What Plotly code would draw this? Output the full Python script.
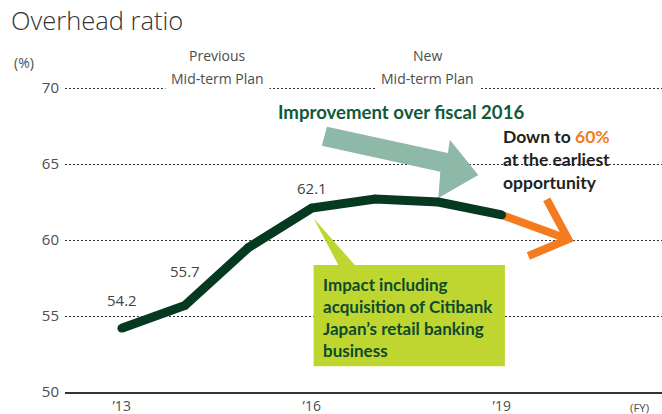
import plotly.graph_objects as go

# ---- data ----
years = [2013, 2014, 2015, 2016, 2017, 2018, 2019]
ratio = [54.2, 55.7, 59.5, 62.1, 62.7, 62.5, 61.65]
label_idx = [0, 1, 3]
label_shift = [28, 34, 20]
target_year = 2020.05
target_ratio = 60.05
tick_years = [2013, 2016, 2019]
tick_text = ["’13", "’16", "’19"]
y_ticks = [50, 55, 60, 65, 70]

# decorative annotation shapes (data coords)
teal_arrow = [(2016.24, 67.45), (2018.15, 65.73), (2018.18, 66.59), (2018.63, 64.28),
              (2018.0, 62.77), (2018.03, 64.5), (2016.16, 66.2)]
lime_callout = [(2016.03, 61.43), (2016.68, 58.35), (2019.05, 58.35), (2019.05, 51.69),
                (2016.03, 51.69), (2016.03, 58.35), (2016.42, 58.35)]
chevron_x = [2019.71, target_year, 2019.42]
chevron_y = [62.68, target_ratio, 58.95]

GREEN = "#063a20"
TEAL = "#8eb8a8"
LIME = "#bfd630"
ORANGE = "#f47b20"
GRAY = "#4d4d4d"
BOLD_FONT = "Lato, Roboto, sans-serif"
LIGHT_FONT = "Open Sans, Roboto, sans-serif"

Y_TOP = 70.2   # tiny headroom so the 70 gridline is drawn
PX_PER_UNIT = 15.17


def path_of(pts):
    return "M " + " L ".join(f"{x},{y}" for x, y in pts) + " Z"


fig = go.Figure()

# orange forecast line + chevron
fig.add_trace(go.Scatter(x=[years[-1], target_year], y=[ratio[-1], target_ratio],
                         mode="lines", line=dict(color=ORANGE, width=8),
                         hoverinfo="skip", showlegend=False))
fig.add_trace(go.Scatter(x=chevron_x, y=chevron_y, mode="lines",
                         line=dict(color=ORANGE, width=8),
                         hoverinfo="skip", showlegend=False))
# main line
fig.add_trace(go.Scatter(x=years, y=ratio, mode="lines+markers",
                         line=dict(color=GREEN, width=9),
                         marker=dict(color=GREEN, size=8.5),
                         hoverinfo="skip", showlegend=False, cliponaxis=False))

fig.add_shape(type="path", path=path_of(teal_arrow), xref="x", yref="y",
              fillcolor=TEAL, line=dict(width=0), layer="between")
fig.add_shape(type="path", path=path_of(lime_callout), xref="x", yref="y",
              fillcolor=LIME, line=dict(width=0), layer="between")

ann = []
for i, s in zip(label_idx, label_shift):
    ann.append(dict(x=years[i], y=ratio[i], text=f"{ratio[i]:.1f}", showarrow=False,
                    yshift=s, font=dict(family=LIGHT_FONT, size=15, color="#444444")))

# plan headers (paper y, shifted in pixels above the plot top)
top_shift = (Y_TOP - 70) * PX_PER_UNIT
for xc, top in [(2014.52, "Previous"), (2017.82, "New")]:
    ann.append(dict(x=xc, y=1, yref="paper", yanchor="middle", yshift=33 - top_shift,
                    text=top, showarrow=False,
                    font=dict(family=LIGHT_FONT, size=14, color=GRAY)))
    ann.append(dict(x=xc, y=1, yref="paper", yanchor="middle", yshift=10 - top_shift,
                    text="Mid-term Plan", showarrow=False, bgcolor="white", borderpad=5,
                    font=dict(family=LIGHT_FONT, size=14, color=GRAY)))

ann.append(dict(x=2015.44, y=68.44, xanchor="left", text="<b>Improvement over fiscal 2016</b>",
                showarrow=False, font=dict(family=BOLD_FONT, size=18.6, color="#0f5a3a")))
ann.append(dict(x=2018.99, y=65.27, xanchor="left", align="left",
                text=f"<b>Down to <span style='color:{ORANGE}'>60%</span><br>at the earliest<br>opportunity</b>",
                showarrow=False, font=dict(family=BOLD_FONT, size=17.5, color="#231f20")))
ann.append(dict(x=2016.15, y=54.89, xanchor="left", align="left",
                text="<b>Impact including<br>acquisition of Citibank<br>Japan’s retail banking<br>business</b>",
                showarrow=False, font=dict(family=BOLD_FONT, size=17, color="#0d4a2c")))
ann.append(dict(x=-0.0888, xref="paper", xanchor="left", y=1, yref="paper", yanchor="middle",
                yshift=26 - top_shift, text="(%)", showarrow=False,
                font=dict(family=LIGHT_FONT, size=14, color=GRAY)))
ann.append(dict(x=2021.18, y=0, yref="paper", yanchor="middle", yshift=-15, text="(FY)",
                showarrow=False, font=dict(family=LIGHT_FONT, size=11.5, color=GRAY)))

fig.update_layout(
    width=662, height=414,
    margin=dict(l=65, r=0, t=88.3 - top_shift, b=22.3),
    plot_bgcolor="white", paper_bgcolor="white",
    title=dict(text="Overhead ratio", x=11 / 662, xref="container", xanchor="left",
               y=1 - 21 / 414, yref="container", yanchor="middle",
               font=dict(family=LIGHT_FONT, size=25.5, color="#333333", weight=300)),
    annotations=ann,
    xaxis=dict(range=[2012.105, 2021.53], tickvals=tick_years, ticktext=tick_text,
               showgrid=False, zeroline=False, showline=True, linecolor="#333333",
               linewidth=1.5, ticks="", ticklabelstandoff=0, automargin=False,
               tickfont=dict(family=LIGHT_FONT, size=14, color=GRAY), fixedrange=True),
    yaxis=dict(range=[50, Y_TOP], tickvals=y_ticks, showgrid=True, gridcolor="#333333",
               griddash="2px,2px", gridwidth=1, zeroline=False, showline=False, ticks="",
               ticklabelstandoff=5, automargin=False,
               tickfont=dict(family=LIGHT_FONT, size=15, color=GRAY), fixedrange=True),
)

fig.write_html("out.html", config={"displayModeBar": False},
               post_script="document.body.style.margin='0';")
